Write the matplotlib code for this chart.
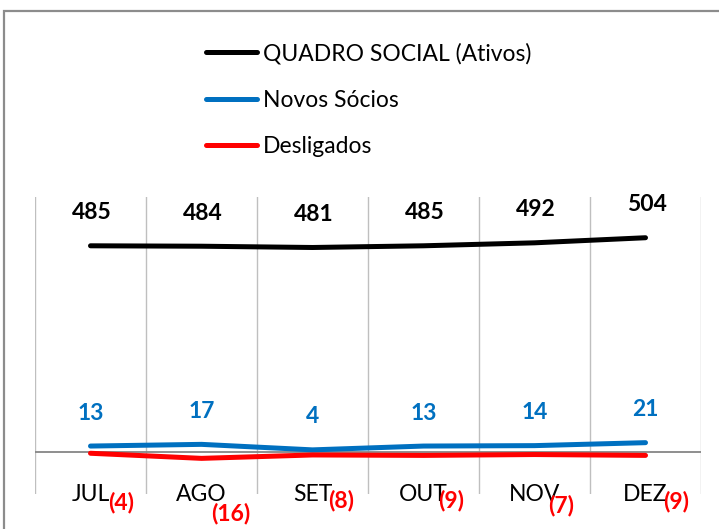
import matplotlib
matplotlib.use("Agg")
import matplotlib.pyplot as plt
from matplotlib.patches import Rectangle

plt.rcParams['font.family'] = ['Lato', 'DejaVu Sans']

months = ["JUL", "AGO", "SET", "OUT", "NOV", "DEZ"]
quadro = [485, 484, 481, 485, 492, 504]
novos = [13, 17, 4, 13, 14, 21]
desligados = [-4, -16, -8, -9, -7, -9]

series_names = ["QUADRO SOCIAL (Ativos)", "Novos Sócios", "Desligados"]
colors = ["#000000", "#0070C0", "#FF0000"]

# label offsets (pixels) for the Desligados labels
desl_offsets = [(31, -49), (29, -55), (29, -46), (28, -45), (27, -51), (31, -46)]

W, H = 719, 529
fig = plt.figure(figsize=(W / 100, H / 100), dpi=100)
ax = fig.add_axes([35 / W, 1 - 494 / H, (701 - 35) / W, (494 - 197) / H])

x = list(range(len(months)))
ax.set_xlim(-0.5, len(months) - 0.5)
ax.set_ylim(-100, 600)

for b in [i - 0.5 for i in range(len(months) + 1)]:
    ax.axvline(b, color="#BFBFBF", lw=1.0, zorder=1)
ax.axhline(0, color="#868686", lw=1.3, zorder=2)

lines = []
for vals, name, c in zip([quadro, novos, desligados], series_names, colors):
    ln, = ax.plot(x, vals, color=c, lw=3.6, solid_capstyle="round",
                  solid_joinstyle="round", label=name, zorder=3)
    lines.append(ln)

fs = 16.5
for xi, v in zip(x, quadro):
    ax.annotate(f"{v}", (xi, v), xytext=(1, 33), textcoords="offset pixels",
                ha="center", va="center", fontsize=fs, fontweight="bold", color="#000000")
for xi, v in zip(x, novos):
    ax.annotate(f"{v}", (xi, v), xytext=(0, 33), textcoords="offset pixels",
                ha="center", va="center", fontsize=fs, fontweight="bold", color="#0070C0")
for xi, v, off in zip(x, desligados, desl_offsets):
    ax.annotate(f"({abs(v)})", (xi, v), xytext=off, textcoords="offset pixels",
                ha="center", va="center", fontsize=fs, fontweight="bold", color="#FF0000")

ax.set_xticks(x)
ax.set_xticklabels(months, fontsize=fs)
ax.tick_params(axis="x", length=0, pad=-7)
ax.set_yticks([])
for s in ax.spines.values():
    s.set_visible(False)

leg = fig.legend(handles=lines, labels=series_names, loc="upper left",
                 bbox_to_anchor=(195 / W, 1 - 31 / H), frameon=False,
                 fontsize=fs, handlelength=2.2, handletextpad=0.25,
                 labelspacing=1.12, borderpad=0)

fig.patches.append(Rectangle((4 / W, -0.1), 1.2, 1 - 11 / H + 0.1,
                             transform=fig.transFigure, fill=False,
                             edgecolor="#8C8C8C", lw=1.6))

fig.savefig("out.png", dpi=100)
